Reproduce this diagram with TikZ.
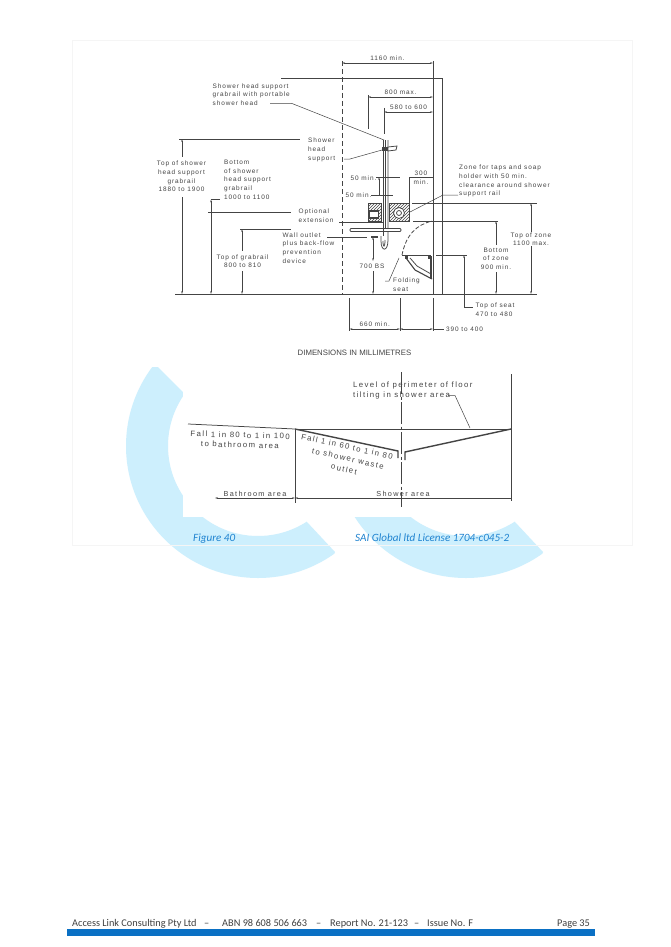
\documentclass[tikz,border=0pt]{standalone}
\usepackage{fontspec}
\setmainfont{Liberation Sans}
\newfontfamily\drawfont[LetterSpace=14]{Liberation Sans}
\newfontfamily\planfont[LetterSpace=18]{Liberation Sans}
\newfontfamily\capfont{Carlito}
\usetikzlibrary{arrows.meta,patterns}
\definecolor{logoblue}{HTML}{CDEFFD}
\definecolor{barblue}{HTML}{0A70C4}
\definecolor{capblue}{HTML}{1F83D0}
\definecolor{ink}{HTML}{444444}
\tikzset{
  x=1pt,y=-1pt,
  lbl/.style={font=\drawfont\fontsize{6.45}{8.6}\selectfont,text=ink,inner sep=0pt,align=left,anchor=north west},
  clbl/.style={font=\drawfont\fontsize{6.45}{8.6}\selectfont,text=ink,inner sep=0pt,align=center},
  plan/.style={font=\planfont\fontsize{7.8}{9.8}\selectfont,text=ink,inner sep=0pt,align=center},
  plansmall/.style={font=\planfont\fontsize{7.3}{9.4}\selectfont,text=ink,inner sep=0pt,align=center},
  foot/.style={font=\capfont\fontsize{10.3}{12}\selectfont,text=black!75,inner sep=0pt,anchor=base west},
  fig/.style={font=\capfont\itshape\fontsize{11.1}{13}\selectfont,text=capblue,inner sep=0pt,anchor=base west},
  ln/.style={draw=ink,line width=0.75pt},
  thin ln/.style={draw=ink,line width=0.5pt},
  heavy/.style={draw=ink,line width=1.1pt},
  dim/.style={draw=ink,line width=0.5pt,{Stealth[length=3pt,width=1.6pt]}-{Stealth[length=3pt,width=1.6pt]}},
  dimend/.style={draw=ink,line width=0.5pt,-{Stealth[length=3pt,width=1.6pt]}},
  dimstart/.style={draw=ink,line width=0.5pt,{Stealth[length=3pt,width=1.6pt]}-},
}
\begin{document}
\begin{tikzpicture}
\useasboundingbox (0,0) rectangle (670,947);
\fill[white] (0,0) rectangle (670,947);
% logo
\begin{scope}
\clip (147,367)--(158,367)--(181,390)--(237,446)--(258,470)--(307,522)--(335,552)--(300,640)--(100,640)--(100,367)--cycle;
\fill[logoblue,even odd rule] (258,446) circle[radius=132] (258,446) circle[radius=90];
\end{scope}
\begin{scope}
\clip (300,517)--(450,446)--(466,470)--(515,522)--(543,552)--(508,640)--(300,640)--cycle;
\fill[logoblue,even odd rule] (466,446) circle[radius=132] (466,446) circle[radius=90];
\end{scope}
\fill[white] (183,360) rectangle (632,517);
\draw[black!4,line width=0.5pt] (72,40) rectangle (632,545);
% --- elevation ---
\coordinate (topL) at (281,78); \coordinate (wallR) at (442,78);
\draw[ln] (topL) -- (wallR) -- (442,294);
\draw[ln] (433,78) -- (433,294);
\coordinate (g1) at (175,294); \coordinate (g2) at (537,294);
\draw[ln] (g1) -- (g2);
\draw[ln,dashed,dash pattern=on 5pt off 3pt] (342,61) -- (342,294);
% top dims
\draw[thin ln] (433,61) -- (433,78);
\draw[dim] (342,63) -- node[clbl,above=2pt]{1160 min.} (433,63);
\draw[thin ln] (368,95) -- (368,129);
\draw[dim] (368,97) -- node[clbl,above=2pt]{800 max.} (433,97);
\draw[thin ln] (384,108) -- (384,134);
\draw[dim] (384,112) -- node[clbl,above=2pt]{580 to 600} (433,112);
% left texts
\node[lbl] (hsg) at (212.5,83.5) {Shower head support\\grabrail with portable\\shower head};
\coordinate (k1) at (270,103.5); \coordinate (k2) at (292,103.5);\coordinate (railtop) at (384,140);
\draw[thin ln] (k1) -- (k2) -- (railtop);
\draw[ln] (179,139) -- (300,139);
\draw[dimstart] (182,139) -- (182,157);
\node[clbl] (tops) at (181.5,176.5) {Top of shower\\head support\\grabrail\\1880 to 1900};
\draw[dimend] (182,197) -- (182,294);
\node[lbl] (bots) at (224,160) {Bottom\\of shower\\head support\\grabrail\\1000 to 1100};
\draw[thin ln] (220,199.5) -- (211,199.5);
\draw[dim] (211,199.5) -- (211,294);
\draw[ln] (208,212) -- (291,212);
\draw[ln] (240,229) -- (291,229);
\draw[dimstart] (242,229) -- (242,251);
\draw[dimend] (242,271) -- (242,294);
\node[clbl] (topg) at (242.5,261) {Top of grabrail\\800 to 810};
\node[lbl] (opt) at (298.5,209) {Optional\\extension};
\draw[thin ln] (339,222) -- (383,222);
\node[lbl] (well) at (282.5,232.5) {Wall outlet\\plus back-flow\\prevention\\device};
\draw[thin ln] (327,237) -- (367,237);
\node[lbl] (shs) at (308,138) {Shower\\head\\support};
\draw[thin ln] (344,159) -- (350,159) -- (382,150);
% shower rail
\draw[ln] (383,140) -- (383,236);
\draw[ln] (385,140) -- (385,232);
\draw[ln] (388,140) -- (388,240) .. controls (388,252) and (381,252) .. (381,241) -- (381,236);
\draw[ln] (385,240) .. controls (385,248) and (383,248) .. (383,241);
\fill[ink] (382,147) rectangle (389,151);
\draw[ln,fill=white] (388,147) -- (397,146) -- (396,150) -- (388,151) -- cycle;
% 50 min
\node[clbl] (f1) at (363.5,178) {50 min.};
\draw[thin ln] (376,177) -- (400,177);
\node[clbl] (f2) at (358.5,195) {50 min.};
\draw[thin ln] (371,195) -- (393,195);
\draw[dimstart] (379,177) -- (379,195);
% 300
\draw[thin ln] (409,203) -- (409,177) -- (433,177);
\node[clbl] (n300) at (421,178) {300\\min.};
% boxes
\draw[ln,pattern=north east lines,pattern color=ink] (368,203) rectangle (381,221);
\draw[heavy,fill=white] (369.5,211) rectangle (378.5,218);
\draw[ln,pattern=north east lines,pattern color=ink] (389,203) rectangle (409,221);
\draw[ln,fill=white] (399,213) circle[radius=5.5];
\draw[ln] (399,213) circle[radius=2.5];
% zone leader
\node[lbl] (zone) at (459,165) {Zone for taps and soap\\holder with 50 min.\\clearance around shower\\support rail};
\draw[thin ln] (410,212) -- (443,195) -- (458,195);
\draw[ln] (412,203) -- (537,203);
\draw[ln] (413,221) -- (498,221);
\draw[ln] (436,255) -- (467,255);
% grabrail
\draw[ln,fill=white,rounded corners=1pt] (350,228.5) rectangle (401,231.5);
\draw[ln] (383,228) -- (383,234);
\draw[heavy] (371,237) -- (378,237);
% seat
\draw[ln,dashed,dash pattern=on 4pt off 2pt] (402,255) .. controls (406,235) and (416,225) .. (432,221);
\draw[ln] (402,255.5) -- (431,255.5);
\fill[ink] (405,256) rectangle (408,258.5);
\fill[ink] (428,256) rectangle (431,258.5);
\draw[heavy] (406,258) -- (415,270) -- (432,279);
\draw[ln] (410,258) -- (417,266) -- (431,274);
\draw[heavy] (431,256) -- (431,279);
\draw[thin ln] (385,281) -- (389,281) -- (399,258);
\node[lbl] (fold) at (393,278) {Folding};
\node[lbl] (seat) at (393,287) {seat};
% 700
\draw[dim] (373,237) -- (373,261);
\draw[dimend] (373,271) -- (373,294);
\node[clbl] (n700) at (372,266) {700 BS};
% right dims
\draw[dimstart] (531,203) -- (531,232);
\draw[dimend] (531,246) -- (531,294);
\node[clbl] (topz) at (531,239) {Top of zone\\1100 max.};
\draw[dimstart] (496,221) -- (496,245);
\draw[dimend] (496,272) -- (496,294);
\node[clbl] (botz) at (496,258.5) {Bottom\\of zone\\900 min.};
\draw[dimstart] (464,255) -- (464,296);
\draw[thin ln] (464,296) -- (464,307) -- (473,307);
\node[lbl] (tseat) at (475.5,303) {Top of seat\\470 to 480};
% bottom dim
\draw[thin ln] (349.5,298) -- (349.5,331);
\draw[thin ln] (400,298) -- (400,331);
\draw[thin ln] (433,298) -- (433,331);
\draw[dim] (349.5,329) -- node[clbl,above=2pt]{660 min.} (400,329);
\draw[dim] (400,329) -- (433,329);
\draw[thin ln] (433,329) -- (444,329);
\node[lbl,anchor=west] (n390) at (446,329) {390 to 400};
\node[inner sep=0pt,font=\fontsize{7.8}{9}\selectfont,text=ink] (dims) at (354.5,353) {DIMENSIONS IN MILLIMETRES};
% --- plan section ---
\coordinate (pa) at (295,429); \coordinate (pb) at (511,429);
\draw[ln] (188,424) -- (pa);
\draw[ln] (pa) -- (pb);
\draw[ln] (295,429) -- (295,503);
\draw[ln] (511,374) -- (511,501);
\draw[heavy,line width=1.4pt] (pa) -- (398,451) -- (398,458);
\draw[heavy,line width=1.4pt] (405,460) -- (405,452) -- (pb);
\draw[ln,dash pattern=on 22pt off 2.5pt on 3pt off 2.5pt] (401,372) -- (401,507);
\draw[dim] (215,498) -- (295,498);
\draw[dimstart] (295,498) -- (511,498);
\node[plansmall,anchor=south] (ba) at (255,497) {Bathroom area};
\node[plansmall,anchor=south] (sa) at (403,497) {Shower area};
\node[plan,rotate=-1.5] (fb) at (240,440) {Fall 1 in 80 to 1 in 100\\to bathroom area};
\node[plan,rotate=-12.5] (fs1) at (347,446.5) {Fall 1 in 60 to 1 in 80};
\node[plan,rotate=-12.5] (fs2) at (348,458.5) {to shower waste};
\node[plan,rotate=-12.5] (fs3) at (344,469) {outlet};
\node[plan,align=left,anchor=north west] (lev) at (353,382) {Level of perimeter of floor\\tilting in shower area};
\draw[thin ln] (448,395.5) -- (455,395.5) -- (470,428);
% captions
\node[fig] (f40) at (193,541.5) {Figure 40};
\node[fig] (sai) at (355,541.5) {SAI Global ltd License 1704-c045-2};
% footer
\node[foot] (a1) at (72,926) {Access Link Consulting Pty Ltd};
\node[foot] (d1) at (204,926) {–};
\node[foot] (a2) at (222,926) {ABN 98 608 506 663};
\node[foot] (d2) at (316,926) {–};
\node[foot] (a3) at (330,926) {Report No. 21-123};
\node[foot] (d3) at (414,926) {–};
\node[foot] (a4) at (427,926) {Issue No. F};
\node[foot] (a5) at (557,926) {Page 35};
\fill[barblue] (67,929) rectangle (595,936);
\end{tikzpicture}
\end{document}
